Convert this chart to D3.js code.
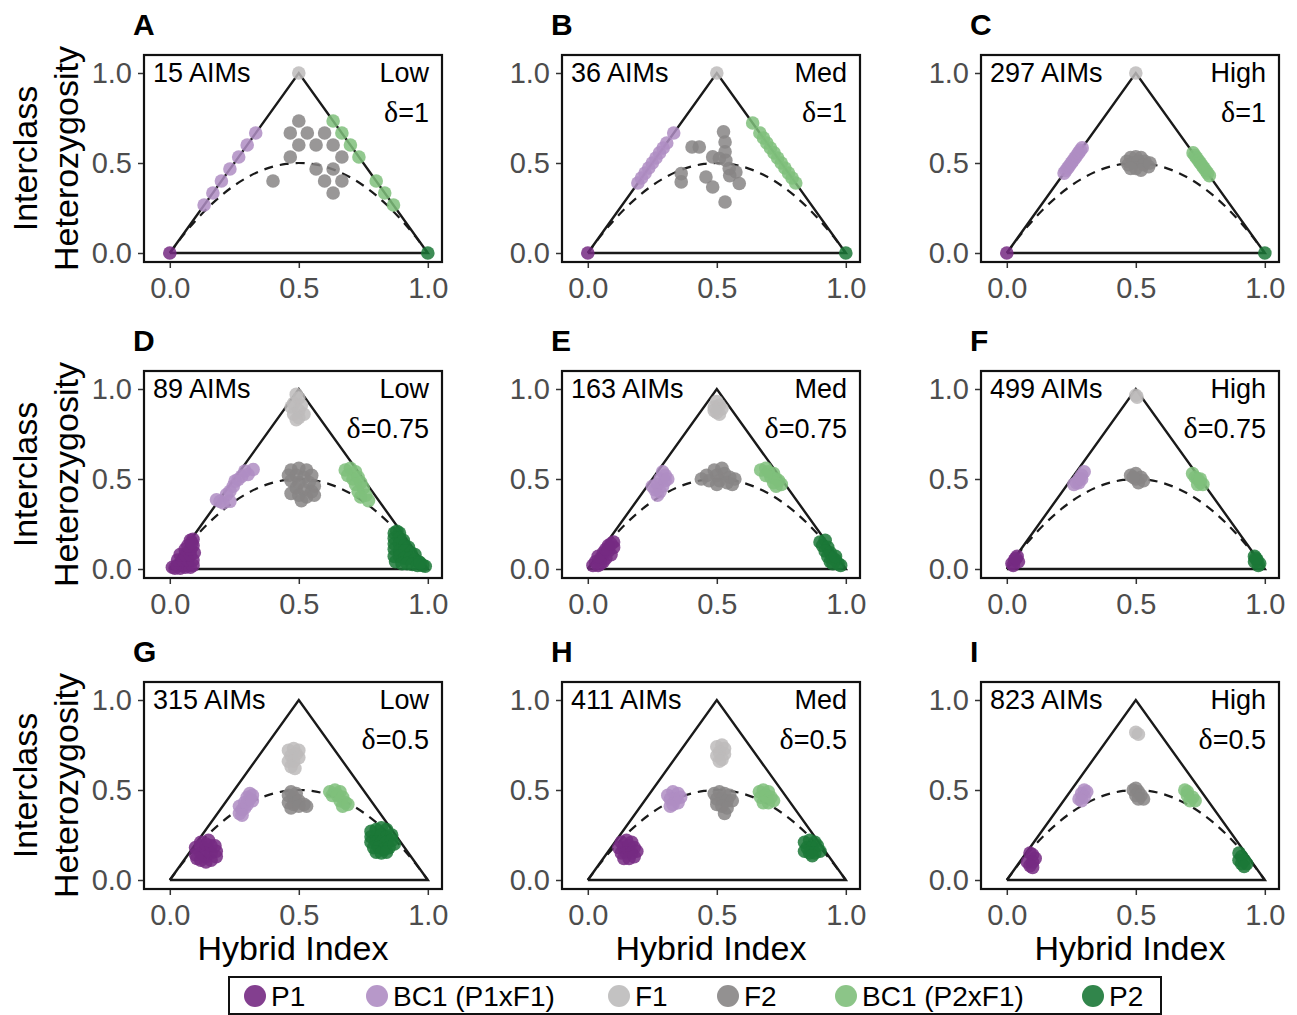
<!DOCTYPE html>
<html>
<head>
<meta charset="utf-8">
<script src="https://cdn.jsdelivr.net/npm/d3@7"></script>
<style>
  body { margin: 0; background: #fff; }
  svg text { font-family: "Liberation Sans", Arial, sans-serif; }
</style>
</head>
<body>
<svg id="fig" width="1297" height="1015"></svg>
<script>
// ---- classes ----
const classKeys   = ["P1", "BC1P1", "F1", "F2", "BC1P2", "P2"];
const classLabels = ["P1", "BC1 (P1xF1)", "F1", "F2", "BC1 (P2xF1)", "P2"];
const classColours = ["#762a83", "#af8dc3", "#bdbbbb", "#878585", "#7fbf7b", "#1b7837"];

// ---- panel annotations ----
const panelLetters = ["A", "B", "C", "D", "E", "F", "G", "H", "I"];
const aimCounts    = [15, 36, 297, 89, 163, 499, 315, 411, 823];
const divergence   = ["Low", "Med", "High", "Low", "Med", "High", "Low", "Med", "High"];
const deltas       = ["1", "1", "1", "0.75", "0.75", "0.75", "0.5", "0.5", "0.5"];

// ---- axes ----
const xTicks = [0, 0.5, 1];
const yTicks = [0, 0.5, 1];
const tickLabels = ["0.0", "0.5", "1.0"];
const xTitle = "Hybrid Index";
const yTitle = ["Interclass", "Heterozygosity"];

// triangle bounds and the expected heterozygosity curve 2h(1-h)
const triangle = [[0, 0], [0.5, 1], [1, 0], [0, 0]];
const hweCurve = [[0, 0], [0.05, 0.095], [0.1, 0.18], [0.15, 0.255], [0.2, 0.32], [0.25, 0.375],
  [0.3, 0.42], [0.35, 0.455], [0.4, 0.48], [0.45, 0.495], [0.5, 0.5], [0.55, 0.495], [0.6, 0.48],
  [0.65, 0.455], [0.7, 0.42], [0.75, 0.375], [0.8, 0.32], [0.85, 0.255], [0.9, 0.18], [0.95, 0.095], [1, 0]];

// ---- individuals per panel: [hybrid index, interclass heterozygosity], one list per class ----
const panelA = [
  [[0, 0]],
  [[0.133, 0.267], [0.167, 0.333], [0.2, 0.4], [0.233, 0.467], [0.267, 0.533], [0.3, 0.6], [0.333, 0.667]],
  [[0.5, 1]],
  [[0.5, 0.733], [0.467, 0.667], [0.533, 0.667], [0.6, 0.667], [0.5, 0.6], [0.567, 0.6], [0.633, 0.6],
   [0.467, 0.533], [0.667, 0.533], [0.567, 0.467], [0.633, 0.467], [0.4, 0.4], [0.6, 0.4], [0.667, 0.4], [0.633, 0.333]],
  [[0.633, 0.733], [0.667, 0.667], [0.7, 0.6], [0.733, 0.533], [0.8, 0.4], [0.833, 0.333], [0.867, 0.267]],
  [[1, 0]]
];
const panelB = [
  [[0, 0]],
  [[0.194, 0.389], [0.208, 0.417], [0.222, 0.444], [0.236, 0.472], [0.25, 0.5], [0.264, 0.528],
   [0.278, 0.556], [0.292, 0.583], [0.306, 0.611], [0.333, 0.667]],
  [[0.5, 1]],
  [[0.526, 0.673], [0.532, 0.617], [0.404, 0.589], [0.432, 0.589], [0.532, 0.562], [0.484, 0.534],
   [0.51, 0.525], [0.535, 0.515], [0.362, 0.441], [0.362, 0.395], [0.458, 0.422], [0.548, 0.469],
   [0.574, 0.45], [0.587, 0.386], [0.484, 0.367], [0.532, 0.283], [0.55, 0.43]],
  [[0.639, 0.722], [0.667, 0.667], [0.681, 0.639], [0.694, 0.611], [0.708, 0.583], [0.722, 0.556],
   [0.736, 0.528], [0.75, 0.5], [0.764, 0.472], [0.778, 0.444], [0.792, 0.417], [0.806, 0.389]],
  [[1, 0]]
];
const panelC = [
  [[0, 0]],
  [[0.222, 0.444], [0.229, 0.458], [0.236, 0.472], [0.243, 0.486], [0.25, 0.5], [0.257, 0.514],
   [0.264, 0.528], [0.271, 0.542], [0.278, 0.556], [0.285, 0.57], [0.292, 0.584]],
  [[0.5, 1]],
  [[0.465, 0.51], [0.48, 0.53], [0.5, 0.535], [0.52, 0.53], [0.535, 0.51], [0.47, 0.49], [0.49, 0.5],
   [0.51, 0.51], [0.53, 0.49], [0.55, 0.48], [0.5, 0.47], [0.52, 0.46], [0.48, 0.47], [0.555, 0.5]],
  [[0.722, 0.556], [0.729, 0.542], [0.736, 0.528], [0.743, 0.514], [0.75, 0.5], [0.757, 0.486],
   [0.764, 0.472], [0.771, 0.458], [0.778, 0.444], [0.785, 0.43]],
  [[1, 0]]
];
const panelD = [
  [[0.01, 0.01], [0.02, 0.005], [0.03, 0.02], [0.04, 0.005], [0.05, 0.02], [0.06, 0.01], [0.07, 0.02],
   [0.08, 0.01], [0.09, 0.02], [0.03, 0.05], [0.05, 0.05], [0.07, 0.05], [0.09, 0.05], [0.04, 0.08],
   [0.06, 0.08], [0.08, 0.08], [0.095, 0.09], [0.06, 0.11], [0.08, 0.11], [0.09, 0.13], [0.07, 0.13],
   [0.08, 0.16], [0.09, 0.165], [0.085, 0.145]],
  [[0.323, 0.553], [0.291, 0.544], [0.265, 0.497], [0.246, 0.46], [0.233, 0.432], [0.22, 0.413],
   [0.195, 0.376], [0.233, 0.376], [0.207, 0.367], [0.279, 0.516], [0.303, 0.525], [0.253, 0.488], [0.181, 0.385]],
  [[0.49, 0.97], [0.5, 0.95], [0.48, 0.92], [0.51, 0.91], [0.47, 0.9], [0.5, 0.88], [0.52, 0.86],
   [0.48, 0.86], [0.5, 0.84], [0.49, 0.83]],
  [[0.47, 0.55], [0.5, 0.56], [0.53, 0.55], [0.46, 0.52], [0.49, 0.52], [0.52, 0.51], [0.55, 0.52],
   [0.47, 0.49], [0.5, 0.48], [0.54, 0.48], [0.56, 0.46], [0.49, 0.45], [0.52, 0.44], [0.55, 0.43],
   [0.5, 0.41], [0.53, 0.4], [0.56, 0.41], [0.47, 0.42], [0.51, 0.38]],
  [[0.68, 0.55], [0.7, 0.56], [0.72, 0.54], [0.69, 0.52], [0.71, 0.5], [0.73, 0.51], [0.74, 0.48],
   [0.72, 0.47], [0.75, 0.45], [0.73, 0.43], [0.76, 0.41], [0.74, 0.4], [0.77, 0.38]],
  [[0.87, 0.2], [0.88, 0.21], [0.89, 0.2], [0.87, 0.17], [0.89, 0.17], [0.905, 0.16], [0.87, 0.14],
   [0.89, 0.14], [0.91, 0.13], [0.925, 0.12], [0.87, 0.11], [0.89, 0.1], [0.91, 0.1], [0.935, 0.09],
   [0.95, 0.08], [0.87, 0.07], [0.89, 0.07], [0.91, 0.06], [0.93, 0.06], [0.95, 0.05], [0.965, 0.04],
   [0.875, 0.04], [0.9, 0.03], [0.92, 0.03], [0.94, 0.025], [0.96, 0.02], [0.98, 0.02], [0.99, 0.015], [0.97, 0.035]]
];
const panelE = [
  [[0.02, 0.02], [0.03, 0.04], [0.04, 0.02], [0.05, 0.06], [0.06, 0.04], [0.06, 0.09], [0.07, 0.06],
   [0.08, 0.1], [0.09, 0.08], [0.08, 0.13], [0.1, 0.12], [0.1, 0.15], [0.05, 0.03], [0.04, 0.07],
   [0.07, 0.11], [0.09, 0.14]],
  [[0.29, 0.54], [0.3, 0.52], [0.28, 0.5], [0.3, 0.49], [0.27, 0.47], [0.29, 0.46], [0.26, 0.44],
   [0.28, 0.43], [0.25, 0.46], [0.27, 0.41], [0.31, 0.5]],
  [[0.5, 0.93], [0.51, 0.91], [0.49, 0.9], [0.52, 0.89], [0.5, 0.87], [0.51, 0.86], [0.49, 0.88]],
  [[0.46, 0.52], [0.49, 0.55], [0.52, 0.56], [0.5, 0.52], [0.53, 0.53], [0.55, 0.51], [0.47, 0.49],
   [0.51, 0.49], [0.54, 0.48], [0.56, 0.47], [0.44, 0.5], [0.5, 0.47], [0.57, 0.5]],
  [[0.67, 0.55], [0.69, 0.56], [0.7, 0.54], [0.72, 0.53], [0.71, 0.51], [0.73, 0.5], [0.74, 0.49],
   [0.72, 0.48], [0.75, 0.47], [0.73, 0.46], [0.69, 0.52]],
  [[0.9, 0.15], [0.92, 0.16], [0.91, 0.13], [0.93, 0.12], [0.92, 0.1], [0.94, 0.09], [0.93, 0.07],
   [0.95, 0.06], [0.96, 0.05], [0.97, 0.03], [0.98, 0.02], [0.95, 0.03], [0.94, 0.04], [0.96, 0.07]]
];
const panelF = [
  [[0.02, 0.03], [0.03, 0.05], [0.04, 0.07], [0.025, 0.02], [0.045, 0.04], [0.035, 0.06]],
  [[0.3, 0.54], [0.29, 0.52], [0.28, 0.5], [0.27, 0.48], [0.26, 0.47], [0.28, 0.48], [0.29, 0.5]],
  [[0.5, 0.965], [0.505, 0.955]],
  [[0.48, 0.52], [0.5, 0.53], [0.52, 0.51], [0.5, 0.5], [0.51, 0.48], [0.53, 0.49], [0.49, 0.51]],
  [[0.72, 0.53], [0.73, 0.51], [0.74, 0.5], [0.75, 0.48], [0.76, 0.47], [0.74, 0.47], [0.75, 0.5]],
  [[0.96, 0.07], [0.97, 0.05], [0.98, 0.03], [0.96, 0.04], [0.975, 0.02], [0.965, 0.06]]
];
const panelG = [
  [[0.1, 0.14], [0.1, 0.18], [0.12, 0.11], [0.12, 0.15], [0.12, 0.19], [0.12, 0.21], [0.14, 0.1],
   [0.14, 0.13], [0.14, 0.17], [0.14, 0.2], [0.16, 0.11], [0.16, 0.15], [0.16, 0.19], [0.18, 0.13],
   [0.18, 0.16], [0.175, 0.19], [0.105, 0.12], [0.15, 0.22]],
  [[0.27, 0.37], [0.28, 0.39], [0.27, 0.41], [0.29, 0.4], [0.29, 0.43], [0.3, 0.42], [0.31, 0.45],
   [0.3, 0.46], [0.32, 0.47], [0.31, 0.48], [0.32, 0.44], [0.28, 0.36]],
  [[0.46, 0.72], [0.48, 0.73], [0.5, 0.72], [0.47, 0.69], [0.49, 0.7], [0.46, 0.66], [0.48, 0.66],
   [0.5, 0.68], [0.47, 0.63], [0.485, 0.62]],
  [[0.46, 0.47], [0.47, 0.49], [0.48, 0.46], [0.49, 0.48], [0.46, 0.43], [0.48, 0.42], [0.5, 0.44],
   [0.52, 0.42], [0.47, 0.4], [0.5, 0.41], [0.53, 0.41]],
  [[0.62, 0.49], [0.64, 0.5], [0.66, 0.49], [0.63, 0.47], [0.65, 0.47], [0.67, 0.46], [0.66, 0.44],
   [0.68, 0.43], [0.67, 0.41], [0.69, 0.42]],
  [[0.78, 0.27], [0.8, 0.28], [0.82, 0.29], [0.84, 0.28], [0.78, 0.24], [0.8, 0.24], [0.82, 0.25],
   [0.84, 0.24], [0.86, 0.25], [0.78, 0.21], [0.8, 0.21], [0.82, 0.21], [0.84, 0.21], [0.86, 0.22],
   [0.79, 0.18], [0.81, 0.18], [0.83, 0.17], [0.85, 0.18], [0.8, 0.155], [0.82, 0.15], [0.84, 0.155], [0.87, 0.2]]
];
const panelH = [
  [[0.13, 0.21], [0.15, 0.22], [0.17, 0.21], [0.12, 0.18], [0.14, 0.18], [0.16, 0.19], [0.18, 0.18],
   [0.13, 0.15], [0.15, 0.15], [0.17, 0.15], [0.19, 0.16], [0.14, 0.12], [0.16, 0.12], [0.18, 0.13]],
  [[0.31, 0.47], [0.33, 0.49], [0.35, 0.48], [0.32, 0.45], [0.34, 0.45], [0.36, 0.46], [0.33, 0.42],
   [0.35, 0.43], [0.32, 0.41]],
  [[0.5, 0.74], [0.52, 0.75], [0.53, 0.73], [0.51, 0.71], [0.53, 0.7], [0.5, 0.69], [0.52, 0.67], [0.51, 0.66]],
  [[0.49, 0.48], [0.51, 0.49], [0.53, 0.48], [0.55, 0.47], [0.5, 0.45], [0.52, 0.45], [0.54, 0.44],
   [0.56, 0.44], [0.5, 0.42], [0.52, 0.41], [0.54, 0.4], [0.53, 0.37]],
  [[0.665, 0.49], [0.68, 0.5], [0.7, 0.49], [0.67, 0.46], [0.69, 0.47], [0.71, 0.46], [0.7, 0.43],
   [0.72, 0.44], [0.68, 0.43]],
  [[0.84, 0.21], [0.86, 0.22], [0.88, 0.21], [0.85, 0.18], [0.87, 0.18], [0.89, 0.19], [0.84, 0.16],
   [0.86, 0.15], [0.88, 0.15], [0.9, 0.16], [0.87, 0.135]]
];
const panelI = [
  [[0.09, 0.15], [0.1, 0.14], [0.11, 0.12], [0.08, 0.1], [0.1, 0.1], [0.09, 0.08], [0.1, 0.07]],
  [[0.3, 0.5], [0.31, 0.49], [0.29, 0.48], [0.3, 0.46], [0.28, 0.45], [0.29, 0.44]],
  [[0.5, 0.82], [0.51, 0.81]],
  [[0.49, 0.5], [0.5, 0.51], [0.51, 0.49], [0.5, 0.47], [0.52, 0.47], [0.53, 0.45], [0.51, 0.45]],
  [[0.69, 0.5], [0.7, 0.49], [0.7, 0.47], [0.72, 0.46], [0.73, 0.44], [0.71, 0.44]],
  [[0.9, 0.15], [0.91, 0.13], [0.92, 0.11], [0.9, 0.11], [0.93, 0.09], [0.91, 0.09], [0.92, 0.075]]
];
const panelPoints = [panelA, panelB, panelC, panelD, panelE, panelF, panelG, panelH, panelI];

// ---- layout ----
const colLeft = [144, 562, 981];
const rowTop = [55, 371, 682];
const frameW = 298, frameH = 207;
const pointR = 6.8;

const svg = d3.select("#fig");

panelLetters.forEach((letter, i) => {
  const col = i % 3, row = Math.floor(i / 3);
  const left = colLeft[col], top = rowTop[row];
  const x = d3.scaleLinear().domain([-0.1, 1.055]).range([left, left + frameW]);
  const y = d3.scaleLinear().domain([-0.05, 1.1]).range([top + frameH, top]);
  const g = svg.append("g");

  // frame
  g.append("rect").attr("x", left).attr("y", top).attr("width", frameW).attr("height", frameH)
    .attr("fill", "none").attr("stroke", "#111").attr("stroke-width", 2.2);

  // axes
  const gx = g.append("g").attr("transform", `translate(0,${top + frameH + 1})`)
    .call(d3.axisBottom(x).tickValues(xTicks).tickFormat((d, k) => tickLabels[k]).tickSize(5).tickPadding(9));
  const gy = g.append("g").attr("transform", `translate(${left - 1},0)`)
    .call(d3.axisLeft(y).tickValues(yTicks).tickFormat((d, k) => tickLabels[k]).tickSize(5).tickPadding(6));
  [gx, gy].forEach(a => {
    a.select(".domain").remove();
    a.selectAll(".tick line").attr("stroke", "#333").attr("stroke-width", 1.5);
    a.selectAll(".tick text").attr("font-size", 29).attr("fill", "#4d4d4d")
      .attr("font-family", "'Liberation Sans', Arial, sans-serif");
  });

  // triangle and expected curve
  const line = d3.line().x(d => x(d[0])).y(d => y(d[1]));
  g.append("path").attr("d", line(triangle)).attr("fill", "none")
    .attr("stroke", "#1a1a1a").attr("stroke-width", 2.4).attr("stroke-linejoin", "miter");
  g.append("path").attr("d", line.curve(d3.curveCatmullRom)(hweCurve)).attr("fill", "none")
    .attr("stroke", "#1a1a1a").attr("stroke-width", 2.2).attr("stroke-dasharray", "9,7");

  // individuals
  panelPoints[i].forEach((pts, c) => {
    g.append("g").selectAll("circle").data(pts).join("circle")
      .attr("cx", d => x(d[0])).attr("cy", d => y(d[1])).attr("r", pointR)
      .attr("fill", classColours[c]).attr("fill-opacity", 0.85);
  });

  // annotations
  g.append("text").attr("x", left - 11).attr("y", top - 20).attr("font-size", 30)
    .attr("font-weight", "bold").attr("fill", "#000").text(letter);
  g.append("text").attr("x", left + 9).attr("y", top + 27).attr("font-size", 27)
    .attr("fill", "#000").text(`${aimCounts[i]} AIMs`);
  g.append("text").attr("x", left + 285).attr("y", top + 27).attr("font-size", 27)
    .attr("text-anchor", "end").attr("fill", "#000").text(divergence[i]);
  const dt = g.append("text").attr("x", left + 285).attr("y", top + 67).attr("font-size", 27)
    .attr("text-anchor", "end").attr("fill", "#000");
  dt.append("tspan").attr("font-family", "'Liberation Serif', serif").attr("font-size", 30).text("δ");
  dt.append("tspan").text("=" + deltas[i]);

  // axis titles
  if (row === 2) {
    g.append("text").attr("x", left + frameW / 2).attr("y", top + frameH + 71).attr("font-size", 34)
      .attr("text-anchor", "middle").attr("fill", "#000").text(xTitle);
  }
  if (col === 0) {
    const cy = top + frameH / 2;
    yTitle.forEach((t, k) => {
      g.append("text").attr("transform", `translate(${37 + k * 41},${cy}) rotate(-90)`)
        .attr("font-size", 34).attr("text-anchor", "middle").attr("fill", "#000").text(t);
    });
  }
});

// legend
const legendCx = [255, 377, 619, 728, 846, 1093];
const lg = svg.append("g");
lg.append("rect").attr("x", 229).attr("y", 977).attr("width", 932).attr("height", 37)
  .attr("fill", "#fff").attr("stroke", "#111").attr("stroke-width", 2);
classKeys.forEach((k, c) => {
  lg.append("circle").attr("cx", legendCx[c]).attr("cy", 996).attr("r", 11)
    .attr("fill", classColours[c]).attr("fill-opacity", 0.9);
  lg.append("text").attr("x", legendCx[c] + 16).attr("y", 1006).attr("font-size", 28)
    .attr("fill", "#000").text(classLabels[c]);
});
</script>
</body>
</html>
